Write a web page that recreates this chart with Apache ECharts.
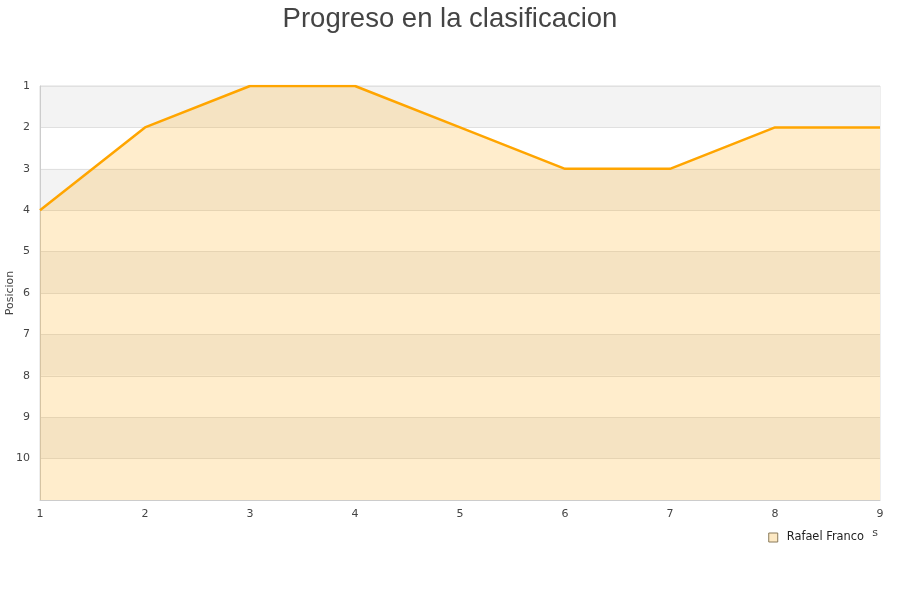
<!DOCTYPE html>
<html><head><meta charset="utf-8">
<script src="https://cdn.jsdelivr.net/npm/echarts@6/dist/echarts.min.js"></script>
<style>html,body{margin:0;padding:0;background:#fff}#c{width:900px;height:600px}</style>
</head><body><div id="c"></div>
<script>
const jornadas = [1, 2, 3, 4, 5, 6, 7, 8, 9];
const posiciones = [4, 2, 1, 1, 2, 3, 3, 2, 2];
const seriesName = 'Rafael Franco';
const titleText = 'Progreso en la clasificacion';

const chart = echarts.init(document.getElementById('c'), null, {renderer: 'canvas'});
chart.setOption({
  animation: false,
  backgroundColor: '#fff',
  title: {text: titleText, left: 'center', top: 0,
    textStyle: {fontFamily: 'Liberation Sans, Arial', fontSize: 27.5, fontWeight: 'normal', color: '#444'}},
  grid: {left: 40, right: 20, top: 86, bottom: 100, containLabel: false, outerBoundsMode: 'none',
    show: true, borderColor: '#ddd', borderWidth: 1, backgroundColor: 'transparent'},
  legend: {
    right: 28, top: 528, padding: [4, 8, 3, 8],
    backgroundColor: '#fff', z: 10,
    icon: 'rect', itemWidth: 9, itemHeight: 9,
    textStyle: {fontFamily: 'DejaVu Sans', fontSize: 11.4, color: '#222', padding: [0, 0, 0, 4]},
    data: [{name: seriesName, itemStyle: {color: '#fde9c4', borderColor: '#8a7a5a', borderWidth: 1}}]
  },
  xAxis: {
    type: 'value', min: 1, max: 9, interval: 1,
    name: 'Jornadas', nameLocation: 'end', nameGap: 0,
    nameTextStyle: {fontFamily: 'DejaVu Sans', fontSize: 11, color: '#444', align: 'right', verticalAlign: 'top', padding: [28, 2, 0, 0]},
    axisLine: {lineStyle: {color: '#ccc'}},
    axisTick: {show: false},
    splitLine: {show: false},
    axisLabel: {fontFamily: 'DejaVu Sans', fontSize: 11, color: '#444', margin: 9}
  },
  yAxis: {
    type: 'value', inverse: true, min: 1, max: 11, interval: 1,
    name: 'Posicion', nameLocation: 'middle', nameGap: 24, nameMoveOverlap: false,
    nameTextStyle: {fontFamily: 'DejaVu Sans', fontSize: 11, color: '#444'},
    axisLine: {show: true, lineStyle: {color: '#ccc'}},
    axisTick: {show: false},
    axisLabel: {fontFamily: 'DejaVu Sans', fontSize: 11, color: '#444', margin: 10,
      formatter: v => v >= 11 ? '' : String(v)},
    splitLine: {show: true, lineStyle: {color: '#e0e0e0'}},
    splitArea: {show: true, areaStyle: {color: ['#f3f3f3', '#ffffff']}}
  },
  series: [{
    name: seriesName, type: 'line',
    data: jornadas.map((j, i) => [j, posiciones[i]]),
    showSymbol: false, symbol: 'none',
    lineStyle: {color: '#ffa500', width: 2.5},
    itemStyle: {color: '#ffa500'},
    areaStyle: {color: '#ffa500', opacity: 0.2, origin: 'end'}
  }]
});
</script></body></html>
